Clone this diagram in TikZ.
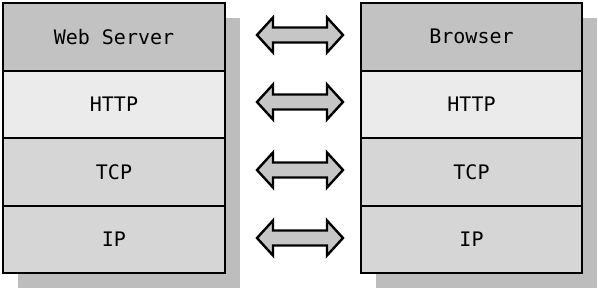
\documentclass[tikz,border=0pt]{standalone}
\usepackage{fontspec}
\setmonofont{DejaVu Sans Mono}
\usetikzlibrary{calc}
\definecolor{shadowgray}{HTML}{BDBDBD}
\definecolor{topgray}{HTML}{C2C2C2}
\definecolor{lightgray}{HTML}{EBEBEB}
\definecolor{midgray}{HTML}{D6D6D6}
\definecolor{arrowgray}{HTML}{C6C6C6}
\tikzset{
  layer/.style={draw=black, line width=2pt, minimum width=222pt, minimum height=67.5pt, inner sep=0pt,
    font=\ttfamily\fontsize{20}{24}\selectfont, anchor=north west},
  shadowbox/.style={fill=shadowgray, draw=none},
  blockarrow/.style={draw=black, fill=arrowgray, line width=2.4pt, line join=miter}
}
\begin{document}
\begin{tikzpicture}[x=1pt,y=-1pt]
\useasboundingbox (0,0) rectangle (598,290);
% shadows
\fill[shadowgray] (18,18) rectangle (240,288);
\fill[shadowgray] (376,18) rectangle (597,288);
% left stack
\node[layer, fill=topgray] (ws) at (2,2) {Web Server};
\node[layer, fill=lightgray] (lhttp) at (2,69.5) {HTTP};
\node[layer, fill=midgray] (ltcp) at (2,137) {TCP};
\node[layer, fill=midgray] (lip) at (2,204.5) {IP};
% right stack
\node[layer, fill=topgray, minimum width=221pt] (br) at (360,2) {Browser};
\node[layer, fill=lightgray, minimum width=221pt] (rhttp) at (360,69.5) {HTTP};
\node[layer, fill=midgray, minimum width=221pt] (rtcp) at (360,137) {TCP};
\node[layer, fill=midgray, minimum width=221pt] (rip) at (360,204.5) {IP};
% arrows
\foreach \n/\y in {a1/35,a2/102,a3/170,a4/238}{
  \coordinate (\n) at (300,\y);
  \draw[blockarrow] ($(\n)+(-43,0)$) -- ++(16,-17.5) -- ++(0,10) -- ++(54,0) -- ++(0,-10)
    -- ++(16,17.5) -- ++(-16,17.5) -- ++(0,-10) -- ++(-54,0) -- ++(0,10) -- cycle;
}
\end{tikzpicture}
\end{document}
